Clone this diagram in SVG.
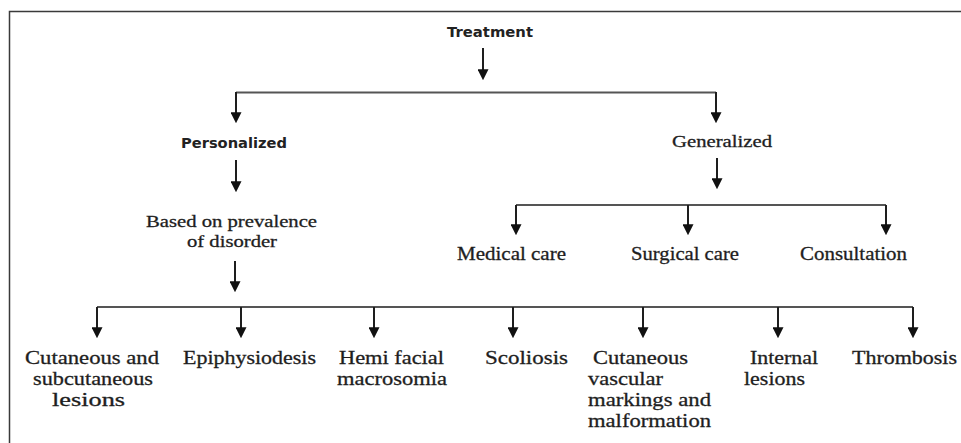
<svg xmlns="http://www.w3.org/2000/svg" width="961" height="443" viewBox="0 0 961 443">
<style>
.bg{fill:#ffffff}
.frame{stroke:#3a3a3a;stroke-width:1.5;fill:none}
.sb{font-family:"DejaVu Sans","Verdana",sans-serif;font-weight:bold;font-size:14px;fill:#222}
.sr{font-family:"Liberation Serif","Times New Roman",serif;fill:#1e1e1e;stroke:#1e1e1e;stroke-width:0.3}
.m{font-size:17px}
.l{font-size:19px}
.c{stroke:#1e1e1e;stroke-width:2;fill:none}
.bar{stroke:#555;stroke-width:2.2;fill:none}
.arr{marker-end:url(#ah)}
</style>
<defs>
<marker id="ah" viewBox="0 0 10 10" refX="8" refY="5" markerWidth="11" markerHeight="11" markerUnits="userSpaceOnUse" orient="auto">
<path d="M0,0 L10,5 L0,10 z" fill="#111"/>
</marker>
</defs>
<rect class="bg" x="0" y="0" width="961" height="443"/>
<path class="frame" d="M9.5,443 V11.5 H961"/>
<g id="connectors">
<path class="c arr" d="M483,48 V78"/>
<path class="bar" d="M236,92.5 H716"/>
<path class="c arr" d="M236,92 V121"/>
<path class="c arr" d="M716,92 V121"/>
<path class="c arr" d="M236,160 V190"/>
<path class="c arr" d="M717,158 V187"/>
<path class="bar" d="M516,205 H886"/>
<path class="c arr" d="M516,205 V233"/>
<path class="c arr" d="M688,205 V233"/>
<path class="c arr" d="M886,205 V233"/>
<path class="c arr" d="M235,261 V290"/>
<path class="bar" d="M97,307 H913"/>
<path class="c arr" d="M97,307 V336"/>
<path class="c arr" d="M241,307 V336"/>
<path class="c arr" d="M374,307 V336"/>
<path class="c arr" d="M513,307 V336"/>
<path class="c arr" d="M643,307 V336"/>
<path class="c arr" d="M778,307 V336"/>
<path class="c arr" d="M913,307 V336"/>
</g>
<g id="treatment"><text class="sb" x="447" y="37" textLength="86" lengthAdjust="spacingAndGlyphs">Treatment</text></g>
<g id="personalized"><text class="sb" x="181" y="148" textLength="106" lengthAdjust="spacingAndGlyphs">Personalized</text></g>
<g id="generalized"><text class="sr m" x="672" y="147" textLength="100" lengthAdjust="spacingAndGlyphs">Generalized</text></g>
<g id="based">
<text class="sr m" x="146" y="227" textLength="171" lengthAdjust="spacingAndGlyphs">Based on prevalence</text>
<text class="sr m" x="187" y="247" textLength="90" lengthAdjust="spacingAndGlyphs">of disorder</text>
</g>
<g id="medical"><text class="sr l" x="457" y="260" textLength="109" lengthAdjust="spacingAndGlyphs">Medical care</text></g>
<g id="surgical"><text class="sr l" x="631" y="260" textLength="108" lengthAdjust="spacingAndGlyphs">Surgical care</text></g>
<g id="consultation"><text class="sr l" x="800" y="260" textLength="107" lengthAdjust="spacingAndGlyphs">Consultation</text></g>
<g id="cutaneous-subcutaneous">
<text class="sr l" x="25" y="364" textLength="134" lengthAdjust="spacingAndGlyphs">Cutaneous and</text>
<text class="sr l" x="33" y="385" textLength="120" lengthAdjust="spacingAndGlyphs">subcutaneous</text>
<text class="sr l" x="52" y="406" textLength="73" lengthAdjust="spacingAndGlyphs">lesions</text>
</g>
<g id="epiphysiodesis"><text class="sr l" x="183" y="364" textLength="133" lengthAdjust="spacingAndGlyphs">Epiphysiodesis</text></g>
<g id="hemifacial">
<text class="sr l" x="339" y="364" textLength="105" lengthAdjust="spacingAndGlyphs">Hemi facial</text>
<text class="sr l" x="337" y="385" textLength="110" lengthAdjust="spacingAndGlyphs">macrosomia</text>
</g>
<g id="scoliosis"><text class="sr l" x="485" y="364" textLength="83" lengthAdjust="spacingAndGlyphs">Scoliosis</text></g>
<g id="cutaneous-vascular">
<text class="sr l" x="593" y="364" textLength="95" lengthAdjust="spacingAndGlyphs">Cutaneous</text>
<text class="sr l" x="588" y="385" textLength="75" lengthAdjust="spacingAndGlyphs">vascular</text>
<text class="sr l" x="588" y="406" textLength="123" lengthAdjust="spacingAndGlyphs">markings and</text>
<text class="sr l" x="588" y="427" textLength="123" lengthAdjust="spacingAndGlyphs">malformation</text>
</g>
<g id="internal">
<text class="sr l" x="750" y="364" textLength="68" lengthAdjust="spacingAndGlyphs">Internal</text>
<text class="sr l" x="744" y="385" textLength="61" lengthAdjust="spacingAndGlyphs">lesions</text>
</g>
<g id="thrombosis"><text class="sr l" x="852" y="364" textLength="105" lengthAdjust="spacingAndGlyphs">Thrombosis</text></g>
</svg>
